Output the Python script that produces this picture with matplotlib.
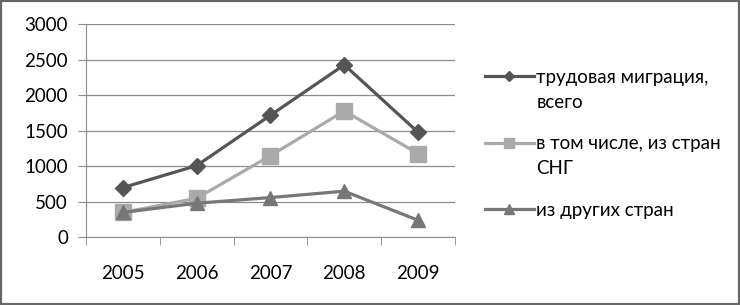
import numpy as np
import matplotlib.pyplot as plt
from matplotlib.patches import Rectangle

# Данные
years = ['2005', '2006', '2007', '2008', '2009']
total = [700, 1010, 1720, 2430, 1480]
cis = [350, 550, 1150, 1780, 1180]
other = [350, 480, 560, 650, 240]
labels = ['трудовая миграция,', 'в том числе, из стран', 'из других стран']
extra = ['всего', 'СНГ', None]

plt.rcParams['font.family'] = ['Lato', 'DejaVu Sans']

fig = plt.figure(figsize=(7.4, 3.05), dpi=100)
ax = fig.add_axes([0.1162, 0.222, 0.4986, 0.698])

x = np.arange(len(years))
l1, = ax.plot(x, total, color='#555555', lw=2.3, marker='D', ms=8.5, zorder=3)
l2, = ax.plot(x, cis, color='#aaaaaa', lw=2.3, marker='s', ms=11, zorder=2)
l3, = ax.plot(x, other, color='#777777', lw=2.3, marker='^', ms=10, zorder=4)

ax.set_xlim(-0.5, len(years) - 0.5)
ax.set_ylim(0, 3000)
ax.set_yticks(np.arange(0, 3001, 500))
ax.set_xticks(x)
ax.set_xticklabels(years)
ax.set_xticks(np.arange(-0.5, len(years)), minor=True)
ax.grid(axis='y', color='#8c8c8c', lw=0.9)
ax.set_axisbelow(True)

for s in ['top', 'right']:
    ax.spines[s].set_visible(False)
for s in ['left', 'bottom']:
    ax.spines[s].set_color('#8c8c8c')
ax.tick_params(axis='x', which='major', length=0, pad=20, labelsize=13.5)
ax.tick_params(axis='x', which='minor', length=6, color='#8c8c8c')
ax.tick_params(axis='y', length=6, color='#8c8c8c', pad=7, labelsize=13.5)

leg = fig.legend([l1, l2, l3], labels, loc='upper left', bbox_to_anchor=(0.645, 0.80),
                 frameon=False, fontsize=13.5, handlelength=2.6, handletextpad=0.15,
                 labelspacing=2.65, markerscale=0.65, borderaxespad=0)

# вторая строка подписей легенды
fig.canvas.draw()
for txt, more in zip(leg.get_texts(), extra):
    if more:
        bb = txt.get_window_extent()
        fig.text(bb.x0 / fig.bbox.width, (bb.y0 - 25) / fig.bbox.height, more,
                 fontsize=13.5, va='bottom', ha='left')

fig.patches.append(Rectangle((0, 0), 1, 1, transform=fig.transFigure, fill=False,
                             edgecolor='#666666', lw=3))

fig.savefig('out.png', dpi=100)
